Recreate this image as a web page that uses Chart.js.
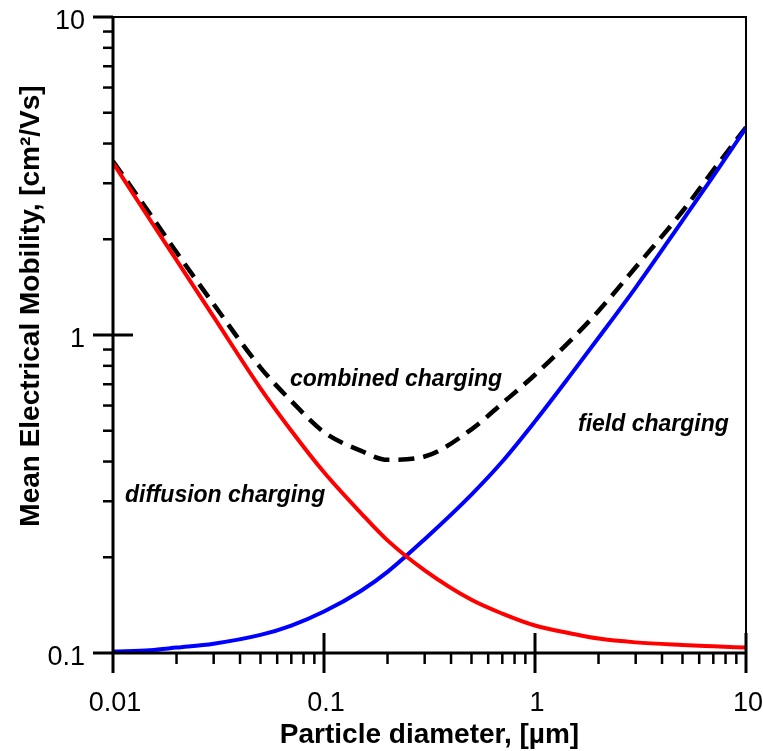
<!DOCTYPE html>
<html>
<head>
<meta charset="utf-8">
<script src="https://cdn.jsdelivr.net/npm/chart.js@4.4.0/dist/chart.umd.min.js"></script>
<style>
  html, body { margin: 0; padding: 0; background: #fff; }
</style>
</head>
<body>
<canvas id="chart" width="763" height="751"></canvas>
<script>
// values (log-log axes)
const diameters = [0.01, 0.015, 0.02, 0.03, 0.05, 0.07, 0.1, 0.15, 0.2, 0.3, 0.5, 0.7, 1, 1.5, 2, 3, 5, 7, 10];
const diffusionCharging = [3.48, 2.30, 1.72, 1.14, 0.68, 0.50, 0.37, 0.275, 0.226, 0.182, 0.147, 0.133, 0.122, 0.115, 0.111, 0.108, 0.106, 0.105, 0.104];
const fieldCharging = [0.101, 0.102, 0.104, 0.107, 0.114, 0.122, 0.135, 0.157, 0.18, 0.228, 0.315, 0.40, 0.535, 0.76, 0.98, 1.41, 2.29, 3.16, 4.48];
const combinedCharging = [3.52, 2.40, 1.82, 1.25, 0.79, 0.62, 0.495, 0.432, 0.405, 0.415, 0.505, 0.61, 0.75, 0.973, 1.19, 1.633, 2.45, 3.3, 4.5];

const xTickValues = [0.01, 0.02, 0.03, 0.04, 0.05, 0.06, 0.07, 0.08, 0.09,
                     0.1, 0.2, 0.3, 0.4, 0.5, 0.6, 0.7, 0.8, 0.9,
                     1, 2, 3, 4, 5, 6, 7, 8, 9, 10];
const yTickValues = [0.1, 0.2, 0.3, 0.4, 0.5, 0.6, 0.7, 0.8, 0.9,
                     1, 2, 3, 4, 5, 6, 7, 8, 9, 10];
const xTickLabels = ['0.01', '0.1', '1', '10'];
const yTickLabels = ['0.1', '1', '10'];

const xTitle = 'Particle diameter, [µm]';
const yTitle = 'Mean Electrical Mobility, [cm²/Vs]';
const notes = [
    { text: 'combined charging', x: 290, y: 386 },
    { text: 'diffusion charging', x: 125, y: 502 },
    { text: 'field charging', x: 578, y: 431 }
];

const FONT = '"Liberation Sans", Arial, Helvetica, sans-serif';

function isDecade(v) {
    const l = Math.log10(v);
    return Math.abs(l - Math.round(l)) < 1e-9;
}

function toPoints(ys) {
    return diameters.map((d, i) => ({ x: d, y: ys[i] }));
}

const axisDecor = {
    id: 'axisDecor',
    afterDraw(chart) {
        const { ctx, chartArea: a, scales: { x, y } } = chart;
        ctx.save();
        ctx.strokeStyle = '#000';
        ctx.lineCap = 'butt';

        // frame: thin top/right, thick left/bottom
        ctx.lineWidth = 2;
        ctx.beginPath();
        ctx.moveTo(a.left, a.top);
        ctx.lineTo(a.right, a.top);
        ctx.lineTo(a.right, a.bottom);
        ctx.stroke();
        ctx.lineWidth = 3;
        ctx.beginPath();
        ctx.moveTo(a.left, a.top - 1);
        ctx.lineTo(a.left, a.bottom);
        ctx.lineTo(a.right + 1, a.bottom);
        ctx.stroke();

        // x ticks: majors cross the axis, minors point out
        x.ticks.forEach(t => {
            const px = x.getPixelForValue(t.value);
            ctx.beginPath();
            if (isDecade(t.value)) {
                ctx.lineWidth = 3;
                const up = Math.abs(px - a.left) < 1 ? 0 : 20;
                ctx.moveTo(px, a.bottom - up);
                ctx.lineTo(px, a.bottom + 20);
            } else {
                ctx.lineWidth = 2.5;
                ctx.moveTo(px, a.bottom);
                ctx.lineTo(px, a.bottom + 11);
            }
            ctx.stroke();
        });

        // y ticks
        y.ticks.forEach(t => {
            const py = y.getPixelForValue(t.value);
            ctx.beginPath();
            if (isDecade(t.value)) {
                ctx.lineWidth = 3;
                const inside = (Math.abs(py - a.top) < 1 || Math.abs(py - a.bottom) < 1) ? 0 : 20;
                ctx.moveTo(a.left - 20, py);
                ctx.lineTo(a.left + inside, py);
            } else {
                ctx.lineWidth = 2.5;
                ctx.moveTo(a.left - 10, py);
                ctx.lineTo(a.left, py);
            }
            ctx.stroke();
        });

        // y axis title
        ctx.fillStyle = '#000';
        ctx.font = 'bold 28px ' + FONT;
        ctx.textAlign = 'center';
        ctx.textBaseline = 'middle';
        ctx.translate(31, 306);
        ctx.rotate(-Math.PI / 2);
        ctx.fillText(yTitle, 0, 0);
        ctx.restore();

        // curve notes
        ctx.save();
        ctx.fillStyle = '#000';
        ctx.font = 'italic bold 23px ' + FONT;
        ctx.textAlign = 'left';
        ctx.textBaseline = 'alphabetic';
        notes.forEach(n => ctx.fillText(n.text, n.x, n.y));
        ctx.restore();
    }
};

new Chart(document.getElementById('chart'), {
    type: 'line',
    data: {
        datasets: [
            {
                label: 'diffusion charging',
                data: toPoints(diffusionCharging),
                borderColor: '#ff0000',
                borderWidth: 4,
                pointRadius: 0,
                cubicInterpolationMode: 'monotone'
            },
            {
                label: 'field charging',
                data: toPoints(fieldCharging),
                borderColor: '#0000ff',
                borderWidth: 4,
                pointRadius: 0,
                cubicInterpolationMode: 'monotone'
            },
            {
                label: 'combined charging',
                data: toPoints(combinedCharging),
                borderColor: '#000000',
                borderWidth: 4.5,
                borderDash: [16, 9],
                pointRadius: 0,
                cubicInterpolationMode: 'monotone'
            }
        ]
    },
    options: {
        responsive: false,
        animation: false,
        layout: { padding: { top: 17, right: 17, left: 0, bottom: 0 } },
        plugins: {
            legend: { display: false },
            tooltip: { enabled: false }
        },
        scales: {
            x: {
                type: 'logarithmic',
                min: 0.01,
                max: 10,
                grid: { display: false, drawTicks: false },
                border: { display: false },
                afterBuildTicks: s => { s.ticks = xTickValues.map(v => ({ value: v })); },
                afterFit: s => {
                    s.height = 98;
                    s.paddingLeft = 0;
                    s.paddingRight = 0;
                },
                ticks: {
                    autoSkip: false,
                    maxRotation: 0,
                    padding: 34,
                    labelOffset: 2,
                    color: '#000',
                    font: { family: FONT, size: 27 },
                    callback: v => {
                        const i = xTickLabels.indexOf(String(v));
                        return i >= 0 ? xTickLabels[i] : '';
                    }
                },
                title: {
                    display: true,
                    text: xTitle,
                    color: '#000',
                    font: { family: FONT, size: 28, weight: 'bold', lineHeight: 1 },
                    padding: { top: 0, bottom: 2 }
                }
            },
            y: {
                type: 'logarithmic',
                min: 0.1,
                max: 10,
                grid: { display: false, drawTicks: false },
                border: { display: false },
                afterBuildTicks: s => { s.ticks = yTickValues.map(v => ({ value: v })); },
                afterFit: s => {
                    s.width = 113;
                    s.paddingTop = 0;
                    s.paddingBottom = 0;
                },
                ticks: {
                    autoSkip: false,
                    padding: 28,
                    labelOffset: 5,
                    color: '#000',
                    font: { family: FONT, size: 27 },
                    callback: v => {
                        const i = yTickLabels.indexOf(String(v));
                        return i >= 0 ? yTickLabels[i] : '';
                    }
                }
            }
        }
    },
    plugins: [axisDecor]
});
</script>
</body>
</html>
